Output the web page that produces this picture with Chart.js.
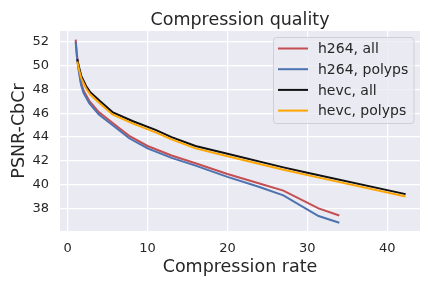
<!DOCTYPE html>
<html>
<head>
<meta charset="utf-8">
<script src="https://cdn.jsdelivr.net/npm/chart.js@4/dist/chart.umd.min.js"></script>
<style>
  html, body { margin: 0; padding: 0; background: #fff; }
</style>
</head>
<body>
<canvas id="qualityChart" width="432" height="288"></canvas>
<script>
// values
const h264X = [1.0, 1.15, 1.33, 1.67, 2.0, 2.7, 3.9, 6.0, 7.7, 10, 13, 16, 20, 24, 27, 31.4, 34];
const h264AllY = [52.2, 51.0, 50.0, 48.6, 47.9, 47.05, 46.1, 45.0, 44.1, 43.25, 42.45, 41.8, 40.9, 40.1, 39.5, 38.0, 37.4];
const h264PolypsY = [52.0, 50.8, 49.8, 48.4, 47.7, 46.85, 45.9, 44.8, 43.9, 43.05, 42.25, 41.6, 40.65, 39.8, 39.1, 37.36, 36.8];

const hevcX = [1.2, 1.45, 1.7, 2.3, 2.8, 4.0, 5.6, 8.1, 11, 13, 16, 20, 27, 30, 42.3];
const hevcAllY = [50.55, 49.8, 49.15, 48.3, 47.8, 47.05, 46.1, 45.35, 44.6, 44.0, 43.25, 42.6, 41.45, 41.0, 39.2];
const hevcPolypsY = [50.35, 49.6, 48.95, 48.1, 47.6, 46.85, 45.9, 45.15, 44.4, 43.8, 43.05, 42.38, 41.25, 40.8, 39.0];

const xTicks = [0, 10, 20, 30, 40];
const yTicks = [38, 40, 42, 44, 46, 48, 50, 52];

const textColor = '#262626';
const fontFamily = '"DejaVu Sans", sans-serif';

function toPoints(xs, ys) {
    return xs.map((x, i) => ({ x: x, y: ys[i] }));
}

const bgPlugin = {
    id: 'bg',
    beforeDraw(chart) {
        const { ctx, chartArea: a } = chart;
        ctx.save();
        ctx.fillStyle = '#fff';
        ctx.fillRect(0, 0, chart.width, chart.height);
        ctx.fillStyle = '#EAEAF2';
        ctx.fillRect(a.left, a.top, a.right - a.left, a.bottom - a.top);
        // title centred over the plot area
        ctx.fillStyle = textColor;
        ctx.font = '17.5px ' + fontFamily;
        ctx.textAlign = 'center';
        ctx.textBaseline = 'alphabetic';
        ctx.fillText('Compression quality', (a.left + a.right) / 2, 25);
        ctx.restore();
    }
};

// legend drawn inside the plot, upper right
const legendPlugin = {
    id: 'innerLegend',
    afterDatasetsDraw(chart) {
        const ctx = chart.ctx;
        const x0 = 273.5, y0 = 37.5, w = 140.5, h = 86;
        ctx.save();
        ctx.beginPath();
        ctx.roundRect(x0, y0, w, h, 3);
        ctx.fillStyle = 'rgba(234,234,242,0.8)';
        ctx.fill();
        ctx.strokeStyle = '#cfcfd4';
        ctx.lineWidth = 1;
        ctx.stroke();
        ctx.font = '14px ' + fontFamily;
        ctx.textBaseline = 'middle';
        chart.data.datasets.forEach((ds, i) => {
            const y = 48.5 + i * 20.7;
            ctx.strokeStyle = ds.borderColor;
            ctx.lineWidth = 2;
            ctx.beginPath();
            ctx.moveTo(278, y);
            ctx.lineTo(308, y);
            ctx.stroke();
            ctx.fillStyle = textColor;
            ctx.fillText(ds.label, 318, y + 1);
        });
        ctx.restore();
    }
};

const ctx = document.getElementById('qualityChart').getContext('2d');

new Chart(ctx, {
    type: 'line',
    data: {
        datasets: [{
            label: 'h264, all',
            data: toPoints(h264X, h264AllY),
            borderColor: '#C44E52',
            order: 4
        }, {
            label: 'h264, polyps',
            data: toPoints(h264X, h264PolypsY),
            borderColor: '#4C72B0',
            order: 3
        }, {
            label: 'hevc, all',
            data: toPoints(hevcX, hevcAllY),
            borderColor: '#111111',
            order: 2
        }, {
            label: 'hevc, polyps',
            data: toPoints(hevcX, hevcPolypsY),
            borderColor: '#FFA500',
            order: 1
        }]
    },
    options: {
        responsive: false,
        animation: false,
        devicePixelRatio: 1,
        layout: { padding: { left: 0, right: 12, top: 31, bottom: 0 } },
        elements: {
            point: { radius: 0 },
            line: { borderWidth: 2, tension: 0, fill: false }
        },
        plugins: {
            legend: { display: false },
            tooltip: { enabled: false },
            title: { display: false }
        },
        scales: {
            x: {
                type: 'linear',
                min: -0.96,
                max: 44.1,
                afterBuildTicks: s => { s.ticks = xTicks.map(v => ({ value: v })); },
                afterFit: s => { s.height = 57; },
                grid: { color: '#ffffff', lineWidth: 1.2, drawTicks: false },
                border: { display: false },
                ticks: {
                    color: textColor,
                    font: { family: fontFamily, size: 13 },
                    padding: 10,
                    maxRotation: 0
                },
                title: {
                    display: true,
                    text: 'Compression rate',
                    color: textColor,
                    font: { family: fontFamily, size: 17.5 },
                    padding: { top: 0, bottom: 10.5 }
                }
            },
            y: {
                type: 'linear',
                min: 36.1,
                max: 52.92,
                afterBuildTicks: s => { s.ticks = yTicks.map(v => ({ value: v })); },
                afterFit: s => { s.width = 60; },
                grid: { color: '#ffffff', lineWidth: 1.2, drawTicks: false },
                border: { display: false },
                ticks: {
                    color: textColor,
                    font: { family: fontFamily, size: 13 },
                    padding: 11
                },
                title: {
                    display: true,
                    text: 'PSNR-CbCr',
                    color: textColor,
                    font: { family: fontFamily, size: 17.5 },
                    padding: { top: 8.5, bottom: 0 }
                }
            }
        }
    },
    plugins: [bgPlugin, legendPlugin]
});
</script>
</body>
</html>
